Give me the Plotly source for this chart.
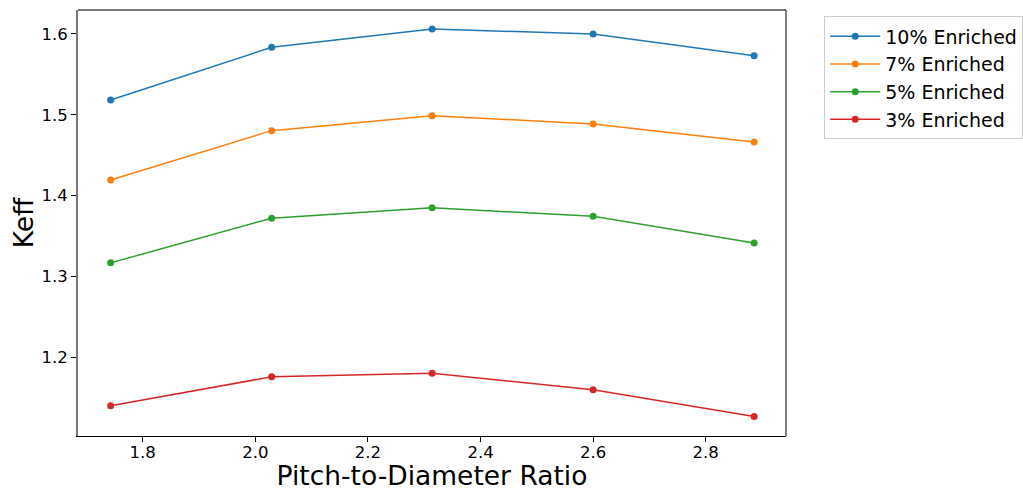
import plotly.graph_objects as go

pitch_ratio = [1.743, 2.029, 2.314, 2.600, 2.886]
keff_10 = [1.5183, 1.5835, 1.6062, 1.6000, 1.5731]
keff_7 = [1.4193, 1.4803, 1.4989, 1.4886, 1.4663]
keff_5 = [1.3166, 1.3719, 1.3847, 1.3744, 1.3413]
keff_3 = [1.1396, 1.1755, 1.1798, 1.1594, 1.1264]

series_names = ["10% Enriched", "7% Enriched", "5% Enriched", "3% Enriched"]
series_values = [keff_10, keff_7, keff_5, keff_3]
colors = ["#1f77b4", "#ff7f0e", "#2ca02c", "#d62728"]

x_ticks = [1.8, 2.0, 2.2, 2.4, 2.6, 2.8]
y_ticks = [1.2, 1.3, 1.4, 1.5, 1.6]

FONT = "DejaVu Sans"

fig = go.Figure()
for name, vals, col in zip(series_names, series_values, colors):
    fig.add_trace(go.Scatter(
        x=pitch_ratio, y=vals, mode="lines+markers", name=name,
        line=dict(color=col, width=1.5),
        marker=dict(color=col, size=7),
    ))

fig.update_layout(
    width=1023, height=491,
    margin=dict(l=78, r=237, t=10, b=55, autoexpand=False),
    paper_bgcolor="white", plot_bgcolor="white",
    font=dict(family=FONT, color="black", size=16),
    showlegend=True,
    legend=dict(
        x=1.054, y=0.985, xanchor="left", yanchor="top",
        bordercolor="#cccccc", borderwidth=1,
        font=dict(family=FONT, size=19, color="black"),
        tracegroupgap=0, itemwidth=50,
        bgcolor="white",
    ),
    xaxis=dict(
        range=[1.685, 2.9426], automargin=False,
        tickvals=x_ticks, ticktext=[f"{v:.1f}" for v in x_ticks],
        ticks="outside", ticklen=5, tickwidth=1, tickcolor="black",
        showline=True, linecolor="black", linewidth=1, mirror=False,
        showgrid=False, zeroline=False,
        tickfont=dict(family=FONT, size=16.5),
        ticklabelstandoff=-4,
        title=dict(text="Pitch-to-Diameter Ratio", font=dict(family=FONT, size=26.5), standoff=10),
    ),
    yaxis=dict(
        range=[1.1022, 1.6297], automargin=False,
        tickvals=y_ticks, ticktext=[f"{v:.1f}" for v in y_ticks],
        ticks="outside", ticklen=5, tickwidth=1, tickcolor="black",
        showline=True, linecolor="#777777", linewidth=2, mirror=False,
        showgrid=False, zeroline=False,
        tickfont=dict(family=FONT, size=16.5),
        title=dict(text="Keff", font=dict(family=FONT, size=26.5), standoff=0),
    ),
)

# top and right spines
fig.add_shape(type="line", xref="paper", yref="paper", x0=0, x1=1, y0=1, y1=1,
              line=dict(color="#777777", width=2))
fig.add_shape(type="line", xref="paper", yref="paper", x0=1, x1=1, y0=0, y1=1,
              line=dict(color="black", width=1))

fig.write_html("out.html")
